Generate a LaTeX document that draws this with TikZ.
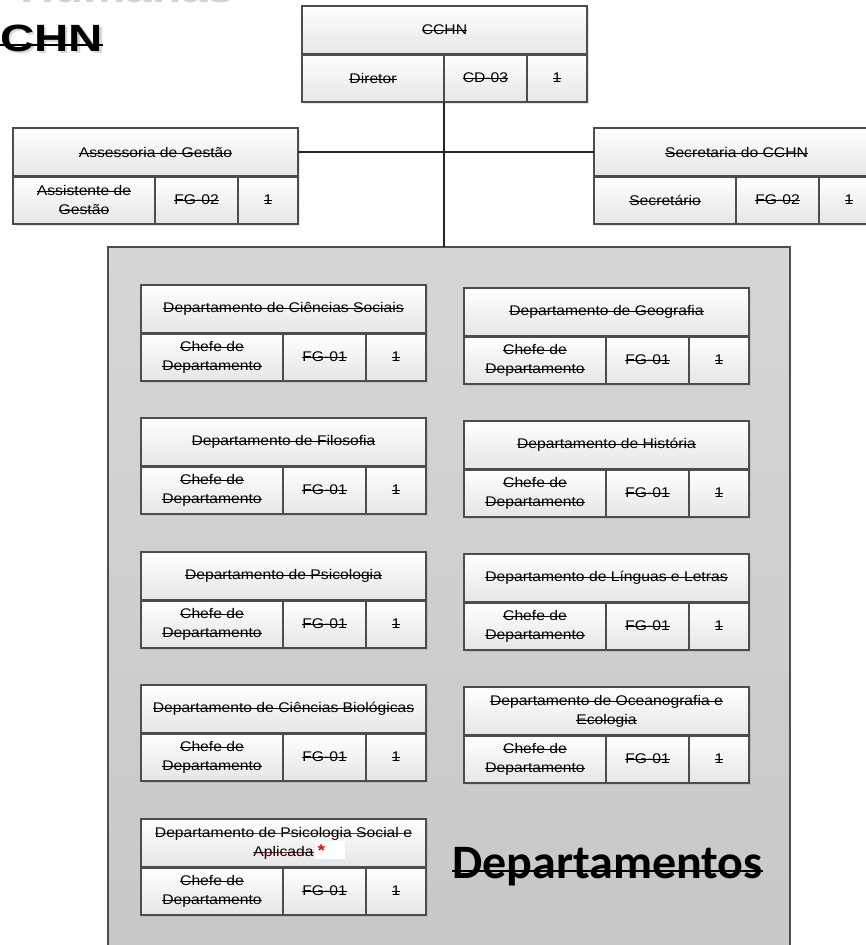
\documentclass[tikz,border=0pt]{standalone}
\usepackage{fontspec}
\setmainfont{Liberation Sans}[FakeStretch=1.12]
\newfontfamily\titulofont{Liberation Sans}[FakeStretch=1.25]
\newfontfamily\grandefont{Carlito}
\usepackage{tikz}
\usetikzlibrary{positioning,shadows}
\definecolor{borda}{RGB}{77,77,77}
\definecolor{linha}{RGB}{38,38,38}
\definecolor{cinzaclaro}{RGB}{230,230,230}
\definecolor{cinzafundo}{RGB}{214,214,214}
\definecolor{cinzafundob}{RGB}{200,200,200}
\definecolor{riscovermelho}{RGB}{150,30,30}
\newsavebox{\riscabox}
% #1 cor, #2 altura do risco, #3 espessura, #4 texto
\newcommand{\riscagen}[4]{\sbox{\riscabox}{#4}\rlap{\textcolor{#1}{\rule[\dimexpr#2-#3/2\relax]{\wd\riscabox}{#3}}}\usebox{\riscabox}}
\newcommand{\risca}[1]{\riscagen{black}{.55ex}{0.8pt}{#1}}
\newcommand{\riscav}[1]{\riscagen{riscovermelho}{.55ex}{0.8pt}{#1}}
\newcommand{\riscagrande}[1]{\riscagen{black}{.3ex}{2.8pt}{#1}}

\begin{document}
\begin{tikzpicture}[x=1pt, y=-1pt, node distance=0pt, every node/.style={font=\fontsize{14}{19}\selectfont}]
\tikzstyle{cab}=[draw=borda, line width=1.3pt, top color=white, bottom color=cinzaclaro, minimum width=285pt, minimum height=48pt, align=center, inner sep=2pt, outer sep=0pt, anchor=north west, drop shadow={shadow xshift=2pt, shadow yshift=-2pt, opacity=.2}]
\tikzstyle{nome}=[cab, minimum width=142pt]
\tikzstyle{func}=[cab, minimum width=83pt]
\tikzstyle{qtd}=[cab, minimum width=60pt]
\tikzstyle{separa}=[draw=borda, line width=3pt]
\tikzstyle{liga}=[draw=linha, line width=1.6pt]
\useasboundingbox (0,0) rectangle (865,945);

% titulo
\node[anchor=base west, inner sep=0pt, text=gray!35, font=\titulofont\bfseries\fontsize{38}{38}\selectfont] (humanas) at (20,2) {Humanas};
\node[anchor=base west, inner sep=0pt, text=gray!60, opacity=.5, font=\titulofont\bfseries\fontsize{38}{38}\selectfont] (chnsombra) at (2.5,53.5) {CHN};
\node[anchor=base west, inner sep=0pt, font=\titulofont\bfseries\fontsize{38}{38}\selectfont] (chn) at (0,51) {\riscagrande{CHN}};

% direcao
\node[cab] (cchn) at (302,6) {\risca{CCHN}};
\node[nome, anchor=north west] (cchn-c) at (cchn.south west) {\risca{Diretor}};
\node[func, right=of cchn-c] (cchn-f) {\risca{CD-03}};
\node[qtd, right=of cchn-f] (cchn-n) {\risca{1}};

\node[cab] (ases) at (13,128) {\risca{Assessoria de Gestão}};
\node[nome, anchor=north west] (ases-c) at (ases.south west) {\risca{Assistente de}\\\risca{Gestão}};
\node[func, right=of ases-c] (ases-f) {\risca{FG-02}};
\node[qtd, right=of ases-f] (ases-n) {\risca{1}};

\node[cab] (secr) at (594,128) {\risca{Secretaria do CCHN}};
\node[nome, anchor=north west] (secr-c) at (secr.south west) {\risca{Secretário}};
\node[func, right=of secr-c] (secr-f) {\risca{FG-02}};
\node[qtd, right=of secr-f] (secr-n) {\risca{1}};

% departamentos
\node[draw=borda, line width=1.3pt, top color=cinzafundo, bottom color=cinzafundob, minimum width=682pt, minimum height=703pt, anchor=north west, outer sep=0pt] (depto) at (108,247) {};

\node[cab] (cs) at (141,285) {\risca{Departamento de Ciências Sociais}};
\node[nome, anchor=north west] (cs-c) at (cs.south west) {\risca{Chefe de}\\\risca{Departamento}};
\node[func, right=of cs-c] (cs-f) {\risca{FG-01}};
\node[qtd, right=of cs-f] (cs-n) {\risca{1}};

\node[cab] (fil) at (141,418) {\risca{Departamento de Filosofia}};
\node[nome, anchor=north west] (fil-c) at (fil.south west) {\risca{Chefe de}\\\risca{Departamento}};
\node[func, right=of fil-c] (fil-f) {\risca{FG-01}};
\node[qtd, right=of fil-f] (fil-n) {\risca{1}};

\node[cab] (psi) at (141,552) {\risca{Departamento de Psicologia}};
\node[nome, anchor=north west] (psi-c) at (psi.south west) {\risca{Chefe de}\\\risca{Departamento}};
\node[func, right=of psi-c] (psi-f) {\risca{FG-01}};
\node[qtd, right=of psi-f] (psi-n) {\risca{1}};

\node[cab] (bio) at (141,685) {\risca{Departamento de Ciências Biológicas}};
\node[nome, anchor=north west] (bio-c) at (bio.south west) {\risca{Chefe de}\\\risca{Departamento}};
\node[func, right=of bio-c] (bio-f) {\risca{FG-01}};
\node[qtd, right=of bio-f] (bio-n) {\risca{1}};

\node[cab] (psa) at (141,819) {\riscav{Departamento de Psicologia Social e}\\\riscav{Aplicada}\rlap{\hspace{1pt}\colorbox{white}{\makebox[24pt][l]{\textcolor{red}{\bfseries\fontsize{17}{17}\selectfont *}}}}};
\node[nome, anchor=north west] (psa-c) at (psa.south west) {\risca{Chefe de}\\\risca{Departamento}};
\node[func, right=of psa-c] (psa-f) {\risca{FG-01}};
\node[qtd, right=of psa-f] (psa-n) {\risca{1}};

\node[cab] (geo) at (464,288) {\risca{Departamento de Geografia}};
\node[nome, anchor=north west] (geo-c) at (geo.south west) {\risca{Chefe de}\\\risca{Departamento}};
\node[func, right=of geo-c] (geo-f) {\risca{FG-01}};
\node[qtd, right=of geo-f] (geo-n) {\risca{1}};

\node[cab] (his) at (464,421) {\risca{Departamento de História}};
\node[nome, anchor=north west] (his-c) at (his.south west) {\risca{Chefe de}\\\risca{Departamento}};
\node[func, right=of his-c] (his-f) {\risca{FG-01}};
\node[qtd, right=of his-f] (his-n) {\risca{1}};

\node[cab] (let) at (464,554) {\risca{Departamento de Línguas e Letras}};
\node[nome, anchor=north west] (let-c) at (let.south west) {\risca{Chefe de}\\\risca{Departamento}};
\node[func, right=of let-c] (let-f) {\risca{FG-01}};
\node[qtd, right=of let-f] (let-n) {\risca{1}};

\node[cab] (oce) at (464,687) {\risca{Departamento de Oceanografia e}\\\risca{Ecologia}};
\node[nome, anchor=north west] (oce-c) at (oce.south west) {\risca{Chefe de}\\\risca{Departamento}};
\node[func, right=of oce-c] (oce-f) {\risca{FG-01}};
\node[qtd, right=of oce-f] (oce-n) {\risca{1}};

\node[anchor=base west, inner sep=0pt, font=\grandefont\bfseries\fontsize{48}{48}\selectfont] (rotulo) at (452,878) {\riscagrande{Departamentos}};

% linhas entre cabecalho e celulas
\foreach \n in {cchn,ases,secr,cs,fil,psi,bio,psa,geo,his,let,oce}
  \draw[separa] (\n.south west) -- (\n.south east);

\draw[liga] (cchn-c.south east) -- (cchn-c.south east |- depto.north);
\draw[liga] (ases.east) -- (secr.west);
\end{tikzpicture}
\end{document}
